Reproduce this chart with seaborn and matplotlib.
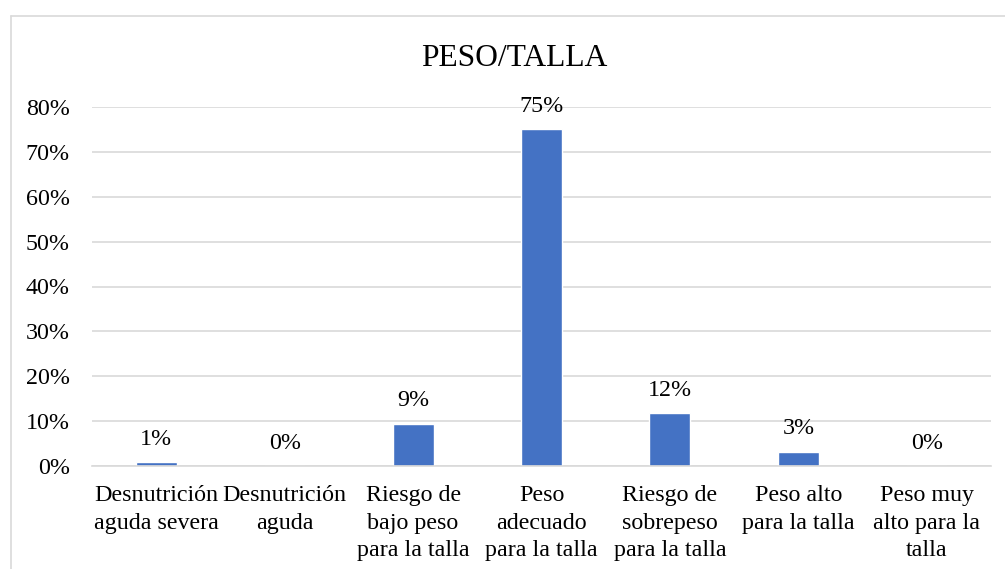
import matplotlib
matplotlib.use('Agg')  # no display
import matplotlib.pyplot as plt
from matplotlib.lines import Line2D
import seaborn as sns

# Data
categories = [
    "Desnutrición\naguda severa",
    "Desnutrición\naguda",
    "Riesgo de\nbajo peso\npara la talla",
    "Peso\nadecuado\npara la talla",
    "Riesgo de\nsobrepeso\npara la talla",
    "Peso alto\npara la talla",
    "Peso muy\nalto para la\ntalla",
]
values = [0.008, 0.0, 0.094, 0.750, 0.117, 0.032, 0.0]
yticks = [0.0, 0.1, 0.2, 0.3, 0.4, 0.5, 0.6, 0.7, 0.8]

sns.set_style("white")
plt.rcParams['font.family'] = ['Liberation Serif', 'DejaVu Serif']
plt.rcParams['text.color'] = 'black'
plt.rcParams['xtick.color'] = 'black'
plt.rcParams['ytick.color'] = 'black'

bar_color = "#4472C4"
grid_color = "#D9D9D9"
fs = 17.3

fig = plt.figure(figsize=(10.05, 5.69), dpi=100)
ax = fig.add_axes([92 / 1005, 1 - 466 / 569, (991 - 92) / 1005, (466 - 107) / 569])

sns.barplot(x=categories, y=values, color=bar_color, width=0.32, ax=ax,
            saturation=1)

ax.set_ylim(0, 0.8)
ax.set_xlim(-0.5, len(categories) - 0.5)
ax.set_yticks(yticks)
ax.set_yticklabels([f"{t:.0%}" for t in yticks])
ax.yaxis.grid(True, color=grid_color, linewidth=1.2)
ax.set_axisbelow(True)
for side in ["left", "right", "top"]:
    ax.spines[side].set_visible(False)
ax.spines["bottom"].set_color(grid_color)
ax.spines["bottom"].set_linewidth(1.2)
ax.tick_params(axis="y", length=0, pad=16, labelsize=fs)
ax.tick_params(axis="x", length=0, pad=14, labelsize=fs)
for lbl in ax.get_xticklabels():
    lbl.set_linespacing(1.4)
ax.set_xlabel("")
ax.set_ylabel("")

# data labels
for i, v in enumerate(values):
    ax.annotate(f"{v:.0%}", (i, v), xytext=(0, 16.5), textcoords="offset points",
                ha="center", va="center", fontsize=fs)

fig.text(514 / 1005, 1 - 58 / 569, "PESO/TALLA", ha="center", va="center", fontsize=22.7)

# chart frame (cropped at the right and bottom)
fig.add_artist(Line2D([11 / 1005, 11 / 1005], [0, 1 - 16 / 569], transform=fig.transFigure,
                      color=grid_color, linewidth=1.2))
fig.add_artist(Line2D([11 / 1005, 1], [1 - 16 / 569, 1 - 16 / 569], transform=fig.transFigure,
                      color=grid_color, linewidth=1.2))

fig.savefig("out.png", dpi=100)
plt.close(fig)
